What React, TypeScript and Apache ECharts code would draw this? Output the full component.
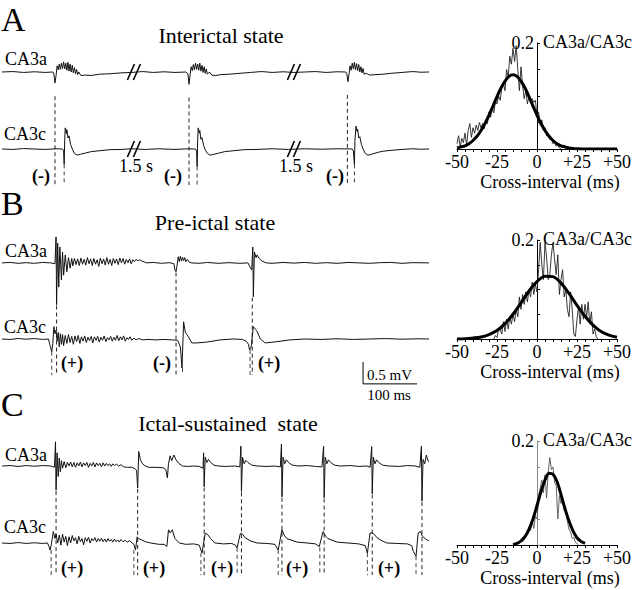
import React, { useEffect, useRef } from "react";
import * as echarts from "echarts";

// ===== Panel A (interictal) traces: [time ms, mV] =====
const traceA_CA3a: number[][] = [
  [0, 0], [20, 0.01], [40, -0.01], [60, 0.005], [80, -0.01], [94, 0],
  [96, -0.05], [98, -0.25], [100, -0.08], [102, 0.14], [104, 0.05], [106, 0.18], [108, 0.06], [110, 0.2],
  [112, 0.08], [114, 0.23], [116, 0.07], [118, 0.2], [120, 0.04], [122, 0.22], [124, 0.02], [126, 0.18],
  [128, 0.0], [130, 0.15], [132, -0.02], [134, 0.1], [136, -0.04], [138, 0.06], [140, -0.06], [142, 0.0],
  [146, -0.08], [155, -0.07], [165, -0.08], [180, -0.05], [200, -0.04], [220, -0.02], [240, -0.01],
  [260, 0.01], [280, -0.01], [300, 0.005], [320, -0.01], [340, 0],
  [344, -0.04], [346, -0.28], [348, -0.06], [350, 0.12], [352, 0.03], [354, 0.17], [356, 0.05], [358, 0.2],
  [360, 0.06], [362, 0.18], [364, 0.04], [366, 0.2], [368, 0.02], [370, 0.15], [372, -0.01], [374, 0.12],
  [376, -0.03], [378, 0.07], [380, -0.05], [384, 0], [388, -0.07], [395, -0.08], [405, -0.06], [420, -0.05],
  [440, -0.03], [460, -0.01], [480, 0.01], [500, -0.01], [520, 0.005], [540, -0.01], [560, 0.0], [580, 0.01],
  [600, -0.01], [620, 0.005], [636, 0],
  [638, -0.04], [640, -0.22], [642, -0.05], [644, 0.14], [646, 0.04], [648, 0.2], [650, 0.07], [652, 0.22],
  [654, 0.05], [656, 0.19], [658, 0.03], [660, 0.17], [662, 0.0], [664, 0.12], [666, -0.02], [668, 0.08],
  [670, -0.05], [674, -0.03], [680, -0.07], [690, -0.06], [705, -0.05], [720, -0.03], [740, -0.01],
  [760, 0.01], [775, -0.005], [790, 0],
];
const traceA_CA3c: number[][] = [
  [0, 0], [20, -0.01], [40, 0.01], [60, 0], [80, -0.01], [100, 0.005], [112, 0],
  [114, -0.04], [115, -0.35], [116, 0.2], [117, 0.48], [119, 0.35], [120, 0.44], [122, 0.25], [124, 0.3],
  [127, 0.1], [130, 0.0], [134, -0.1], [139, -0.14], [145, -0.12], [155, -0.09], [165, -0.06], [180, -0.04],
  [200, -0.015], [220, -0.01], [240, 0.005], [265, -0.01], [290, 0.005], [320, -0.01], [345, 0.005], [358, 0],
  [360, -0.05], [361, -0.4], [362, 0.2], [363, 0.48], [365, 0.36], [366, 0.42], [368, 0.22], [370, 0.26],
  [373, 0.08], [376, -0.02], [380, -0.1], [385, -0.14], [392, -0.12], [402, -0.09], [412, -0.06],
  [428, -0.04], [448, -0.015], [470, -0.01], [500, 0.005], [530, -0.01], [560, 0.005], [590, -0.005],
  [620, 0.005], [648, 0],
  [650, -0.04], [652, -0.35], [653, 0.2], [655, 0.52], [657, 0.4], [658, 0.45], [660, 0.25], [662, 0.28],
  [665, 0.1], [668, 0.0], [672, -0.1], [677, -0.14], [684, -0.12], [694, -0.08], [705, -0.05], [720, -0.03],
  [740, -0.01], [760, 0.005], [775, -0.005], [790, 0],
];
const dashA_CA3a = [98, 346, 639];
const dashA_CA3c = [115, 361, 652];
const breaksA = [245, 541];

// ===== Panel B (pre-ictal) traces =====
const traceB_CA3a: number[][] = [
  [0, 0], [15, 0.01], [30, -0.01], [45, 0.005], [60, -0.01], [75, 0.01], [90, 0], [98, -0.02],
  [100, 0.59], [101, -0.95], [103, 0.45], [105, -0.55], [107, 0.36], [110, -0.39], [112, 0.25], [114, -0.28],
  [117, 0.18], [120, -0.2], [123, 0.12], [126, -0.12], [129, 0.1], [131, -0.07], [134, 0.1], [137, -0.04],
  [140, 0.09], [143, -0.06], [146, 0.11], [149, -0.03], [152, 0.08], [155, -0.05], [158, 0.12], [161, -0.02],
  [164, 0.09], [167, -0.06], [170, 0.1], [173, -0.03], [176, 0.07], [179, -0.08], [182, 0.11], [185, -0.02],
  [188, 0.09], [191, -0.05], [194, 0.12], [197, -0.03], [200, 0.08], [203, -0.06], [206, 0.1], [209, -0.01],
  [212, 0.09], [215, -0.04], [218, 0.11], [221, 0.0], [224, 0.1], [227, -0.03], [230, 0.08], [233, 0.0],
  [236, 0.09], [239, -0.02], [242, 0.07], [245, 0.03], [248, 0.08], [251, 0.05], [255, 0.07], [259, 0.04],
  [263, 0.02], [268, 0.0], [280, 0.01], [295, -0.01], [310, 0.005], [318, -0.02],
  [320, -0.16], [322, -0.2], [324, -0.05], [326, 0.14], [328, 0.03], [330, 0.15], [332, 0.04], [334, 0.13],
  [336, 0.05], [338, 0.12], [340, 0.03], [343, 0.08], [346, 0.02], [350, 0.0], [365, -0.01], [380, 0.01],
  [400, -0.01], [420, 0.005], [440, -0.01], [455, 0.0],
  [459, -0.1], [462, -0.16], [464, 0.36], [465, -0.77], [467, 0.25], [470, 0.12], [472, 0.18], [476, 0.1],
  [481, 0.04], [489, 0], [500, -0.01], [520, 0.01], [540, -0.005], [560, 0.01], [580, -0.01], [600, 0.005],
  [620, -0.01], [640, 0.01], [660, 0], [680, -0.01], [700, 0.005], [720, 0.01], [740, -0.01], [760, 0.005],
  [790, 0],
];
const traceB_CA3c: number[][] = [
  [0, 0], [15, -0.01], [30, 0.01], [45, -0.005], [60, 0.01], [75, -0.01], [86, 0],
  [89, -0.15], [92, -0.29], [94, -0.1], [96, 0.28], [98, 0.12], [100, 0.2], [102, -0.05], [104, 0.15],
  [106, -0.18], [108, 0.12], [110, -0.12], [112, 0.1], [114, -0.15], [117, 0.08], [120, -0.1], [123, 0.1],
  [126, -0.08], [129, 0.06], [132, -0.12], [135, 0.07], [138, -0.06], [141, 0.08], [144, -0.1], [147, 0.05],
  [150, -0.05], [153, 0.07], [156, -0.08], [159, 0.04], [162, -0.04], [165, 0.06], [168, -0.09], [171, 0.05],
  [174, -0.03], [177, 0.06], [180, -0.07], [183, 0.04], [186, -0.03], [189, 0.07], [192, -0.06], [195, 0.03],
  [198, -0.02], [201, 0.06], [204, -0.05], [207, 0.04], [210, -0.03], [213, 0.08], [216, -0.04], [219, 0.05],
  [222, -0.02], [225, 0.07], [228, -0.05], [231, 0.03], [234, -0.01], [237, 0.05], [240, -0.03], [244, 0.02],
  [248, -0.02], [253, 0.01], [260, -0.02], [270, -0.01], [285, -0.02], [300, -0.01], [315, -0.02],
  [325, -0.03], [330, -0.18], [333, -0.66], [336, 0.39], [339, 0.16], [342, 0.1], [345, 0.05], [351, -0.09],
  [360, -0.09], [379, -0.07], [404, -0.02], [428, 0], [445, -0.01], [452, -0.05], [456, -0.12], [458, -0.25],
  [461, -0.18], [465, 0.28], [469, 0.22], [472, 0.17], [478, 0.0], [487, -0.09], [509, -0.06], [533, -0.02],
  [560, 0], [590, -0.01], [620, 0.005], [650, -0.01], [680, 0], [710, 0.01], [740, -0.005], [770, 0.005],
  [790, 0],
];
const dashB_CA3a = [101, 322, 463];
const dashB_CA3c = [92, 334, 459];

// ===== Panel C (ictal-sustained) traces =====
const traceC_CA3a: number[][] = [
  [0, 0], [15, 0.01], [30, -0.01], [45, 0.01], [60, -0.005], [75, 0.01], [90, 0], [97, -0.03],
  [99, 0.55], [100, -0.55], [102, 0.3], [104, -0.24], [106, 0.18], [108, -0.13], [110, 0.12], [112, -0.05],
  [115, 0.1], [118, -0.04], [121, 0.08], [124, 0.0], [127, 0.09], [130, -0.02], [133, 0.08], [136, -0.03],
  [139, 0.07], [142, 0.0], [145, 0.09], [148, -0.02], [151, 0.07], [154, 0.01], [157, 0.08], [160, -0.03],
  [163, 0.06], [166, 0.0], [169, 0.08], [172, -0.02], [175, 0.07], [178, 0.01], [181, 0.06], [184, -0.02],
  [187, 0.07], [190, 0.0], [193, 0.06], [196, 0.01], [199, 0.05], [202, -0.01], [205, 0.05], [208, 0.01],
  [212, 0.04], [216, 0.0], [220, 0.03], [225, -0.02], [232, -0.03], [240, -0.03], [246, -0.06], [249, -0.1],
  [251, -0.5], [253, 0.33], [256, 0.14], [260, 0.05], [265, 0.0], [272, -0.03], [285, -0.03], [298, -0.04],
  [303, -0.08], [306, -0.27], [308, 0.05], [311, 0.23], [314, 0.12], [318, 0.25], [322, 0.14], [327, 0.06],
  [334, 0.0], [345, -0.01], [355, 0.0], [365, -0.01], [372, -0.05],
  [373, 0.3], [374, -0.47], [376, 0.2], [379, 0.08], [382, 0.15], [386, 0.08], [392, 0.02], [400, 0],
  [415, -0.01], [430, 0.0], [440, -0.02],
  [442, 0.45], [443, -0.58], [445, 0.2], [448, 0.05], [451, 0.13], [455, 0.08], [462, 0.02], [472, 0],
  [490, -0.01], [505, 0.0], [515, -0.02],
  [517, 0.5], [518, -0.7], [520, 0.2], [523, 0.05], [526, 0.14], [530, 0.08], [537, 0.02], [548, 0],
  [565, 0.01], [580, -0.01], [592, -0.02],
  [595, 0.45], [596, -0.72], [598, 0.2], [601, 0.05], [604, 0.14], [608, 0.08], [615, 0.02], [626, 0],
  [645, 0.01], [660, -0.01], [675, 0.0], [681, -0.03],
  [684, 0.44], [685, -0.63], [687, 0.2], [690, 0.05], [693, 0.14], [697, 0.08], [704, 0.02], [715, 0],
  [735, -0.01], [750, 0.01], [765, 0], [773, -0.03],
  [776, 0.45], [777, -0.8], [779, 0.15], [782, 0.05], [785, 0.25], [788, 0.12], [790, 0.1],
];
const traceC_CA3c: number[][] = [
  [0, 0], [15, -0.01], [30, 0.01], [45, -0.01], [60, 0.005], [75, -0.01], [84, 0.0], [87, -0.08],
  [89, -0.16], [91, -0.05], [95, 0.26], [98, 0.1], [100, 0.2], [103, 0.0], [106, 0.18], [109, -0.05],
  [112, 0.2], [115, 0.02], [118, 0.15], [121, -0.06], [124, 0.14], [127, 0.0], [130, 0.17], [133, 0.05],
  [136, 0.12], [139, -0.02], [142, 0.15], [145, 0.03], [148, 0.1], [151, -0.04], [154, 0.12], [157, 0.04],
  [160, 0.13], [163, 0.0], [166, 0.1], [169, 0.05], [172, 0.12], [175, 0.02], [178, 0.1], [181, 0.04],
  [184, 0.11], [187, 0.03], [190, 0.09], [193, 0.02], [196, 0.1], [199, 0.04], [202, 0.08], [205, 0.02],
  [208, 0.09], [211, 0.03], [214, 0.07], [217, 0.02], [220, 0.08], [224, 0.03], [228, 0.06], [232, 0.02],
  [236, 0.05], [240, 0.01], [244, -0.03], [247, -0.16],
  [250, 0.14], [253, 0.1], [258, 0.07], [265, 0.03], [275, 0.0], [290, -0.03], [300, -0.03], [305, -0.08],
  [308, 0.3], [311, 0.23], [315, 0.3], [320, 0.1], [328, 0.0], [340, -0.03], [355, -0.02], [365, -0.05],
  [370, -0.23], [376, 0.22], [380, 0.2], [386, 0.1], [394, 0.0], [410, -0.02], [425, -0.01], [432, -0.05],
  [435, -0.11], [441, 0.22], [445, 0.2], [450, 0.12], [459, 0.05], [472, 0.0], [490, -0.01], [505, -0.03],
  [511, -0.16], [518, 0.3], [522, 0.18], [527, 0.1], [546, 0.02], [565, 0.0], [580, -0.02], [587, -0.08],
  [594, 0.26], [599, 0.15], [603, 0.1], [620, 0.02], [640, 0.0], [660, -0.02], [672, -0.06], [676, -0.23],
  [681, 0.23], [687, 0.22], [694, 0.12], [700, 0.07], [712, 0.0], [730, -0.01], [750, -0.02], [758, -0.06],
  [761, -0.19], [766, -0.3], [770, 0.23], [774, 0.26], [778, 0.15], [785, 0.08], [790, 0.05],
];
const dashC_CA3a = [100, 251, 374, 443, 518, 596, 685, 777];
const dashC_CA3c = [91, 244, 368, 435, 511, 588, 676, 766];

// ===== Cross-interval histograms (1 ms bins) =====
const histA_start = -50;
const histA = [
  0.01, 0.025, 0.005, 0.02, 0.012, 0.03, 0.008, 0.035, 0.048, 0.022,
  0.04, 0.03, 0.045, 0.035, 0.05, 0.04, 0.048, 0.038, 0.055, 0.048,
  0.07, 0.06, 0.078, 0.068, 0.09, 0.085, 0.1, 0.092, 0.115, 0.125,
  0.11, 0.15, 0.135, 0.175, 0.16, 0.19, 0.165, 0.195, 0.15, 0.11,
  0.155, 0.12, 0.095, 0.11, 0.085, 0.1, 0.09, 0.095, 0.088, 0.092,
  0.06, 0.07, 0.045, 0.055, 0.035, 0.04, 0.025, 0.03, 0.018, 0.022,
  0.01, 0.014, 0.005, 0.008, 0.002, 0,
];
const histB_start = -27;
const histB = [
  0, 0.007, 0.003, 0.02, 0.02, 0.01, 0.035, 0.015, 0.04, 0.02,
  0.045, 0.03, 0.05, 0.035, 0.06, 0.045, 0.085, 0.06, 0.09, 0.07,
  0.095, 0.075, 0.1, 0.085, 0.115, 0.09, 0.11, 0.095, 0.14, 0.195,
  0.15, 0.12, 0.195, 0.165, 0.12, 0.13, 0.17, 0.195, 0.16, 0.13,
  0.17, 0.09, 0.12, 0.14, 0.085, 0.1, 0.06, 0.045, 0.095, 0.06,
  0.01, 0.005, 0.04, 0.065, 0.03, 0.07, 0.04, 0.07, 0.045, 0.075,
  0.03, 0.055, 0.01, 0.02, 0.005, 0,
];
const histC_start = -14;
const histC = [
  0, 0.002, 0.004, 0.003, 0.008, 0.006, 0.012, 0.018, 0.022, 0.035,
  0.028, 0.045, 0.032, 0.055, 0.05, 0.085, 0.11, 0.125, 0.1, 0.135,
  0.09, 0.14, 0.168, 0.145, 0.15, 0.12, 0.115, 0.05, 0.095, 0.08,
  0.085, 0.065, 0.07, 0.045, 0.03, 0.025, 0.012, 0.015, 0.005, 0.003, 0,
];

// ===== Gaussian fits =====
const gaussA: number[][] = [
  [-50, 0.002], [-47.5, 0.004], [-45, 0.006], [-42.5, 0.01], [-40, 0.016], [-37.5, 0.024], [-35, 0.035],
  [-32.5, 0.048], [-30, 0.064], [-27.5, 0.081], [-25, 0.099], [-22.5, 0.115], [-20, 0.128], [-17.5, 0.137],
  [-15, 0.14], [-12.5, 0.137], [-10, 0.128], [-7.5, 0.115], [-5, 0.099], [-2.5, 0.081], [0, 0.064],
  [2.5, 0.048], [5, 0.035], [7.5, 0.024], [10, 0.016], [12.5, 0.01], [15, 0.006], [17.5, 0.004],
  [20, 0.002], [22.5, 0.001], [25, 0.0005], [30, 0], [40, 0], [50, 0],
];
const gaussB: number[][] = [
  [-50, 0.0002], [-45, 0.0007], [-40, 0.002], [-35, 0.004], [-30, 0.009], [-25, 0.017], [-20, 0.031],
  [-15, 0.05], [-10, 0.073], [-5, 0.097], [0, 0.116], [5, 0.127], [10, 0.126], [15, 0.113], [20, 0.092],
  [25, 0.068], [30, 0.046], [35, 0.028], [40, 0.015], [45, 0.008], [50, 0.0035],
];
const gaussC: number[][] = [
  [-15, 0.001], [-12.5, 0.003], [-10, 0.008], [-7.5, 0.016], [-5, 0.03], [-2.5, 0.05], [0, 0.076],
  [2.5, 0.103], [5, 0.125], [7.5, 0.138], [10, 0.136], [12.5, 0.122], [15, 0.097], [17.5, 0.07],
  [20, 0.046], [22.5, 0.027], [25, 0.014], [27.5, 0.007], [30, 0.003],
];

const histTicks = [-50, -25, 0, 25, 50];
const scaleBarMs = 100;
const scaleBarMv = 0.5;

const FONT = '"Liberation Serif", "Times New Roman", serif';

function minNear(trace: number[][], t: number, w = 3) {
  let m = Infinity;
  for (const [x, v] of trace) if (Math.abs(x - t) <= w) m = Math.min(m, v);
  return m === Infinity ? 0 : m;
}

function txt(text: string, x: number, y: number, size: number, align = "left", weight = "normal") {
  return {
    type: "text",
    x,
    y,
    silent: true,
    style: {
      text,
      fill: "#000",
      font: `${weight} ${size}px ${FONT}`,
      textAlign: align,
      align,
      textVerticalAlign: "middle",
      verticalAlign: "middle",
    },
  };
}

function buildOption() {
  const traceGrids = [
    { top: 34.6, min: -0.9, max: 2.6 },
    { top: 224.6, min: -1.2, max: 2.6 },
    { top: 428.6, min: -0.9, max: 2.6 },
  ];
  const PXMV = 44;
  const HIST_LEFT = 457;
  const HIST_W = 160;
  const histGrids = [
    { top: 43, height: 106, axisColor: "#000", thin: "#222" },
    { top: 240, height: 99, axisColor: "#000", thin: "#222" },
    { top: 441, height: 104, axisColor: "#888", thin: "#555" },
  ];

  const grid: any[] = [];
  const xAxis: any[] = [];
  const yAxis: any[] = [];
  traceGrids.forEach((g) => {
    grid.push({ left: 2, width: 427, top: g.top, height: (g.max - g.min) * PXMV, containLabel: false, outerBoundsMode: "none" });
    xAxis.push({ type: "value", gridIndex: grid.length - 1, min: 0, max: 790, show: false });
    yAxis.push({ type: "value", gridIndex: grid.length - 1, min: g.min, max: g.max, show: false });
  });
  histGrids.forEach((g) => {
    grid.push({ left: HIST_LEFT, width: HIST_W, top: g.top, height: g.height, containLabel: false, outerBoundsMode: "none" });
    const gi = grid.length - 1;
    xAxis.push({
      type: "value",
      gridIndex: gi,
      min: -50,
      max: 50,
      interval: 5,
      axisLine: { show: true, onZero: false, lineStyle: { color: "#000", width: 1 } },
      axisTick: { show: true, length: 3, lineStyle: { color: "#000" } },
      splitLine: { show: false },
      axisLabel: {
        interval: 0,
        margin: 4,
        color: "#000",
        fontSize: 18,
        fontFamily: FONT,
        formatter: (v: number) => (histTicks.includes(v) ? (v > 0 ? "+" + v : String(v)) : ""),
      },
      name: "Cross-interval (ms)",
      nameLocation: "middle",
      nameGap: 24,
      nameTextStyle: { color: "#000", fontSize: 18, fontFamily: FONT, padding: [0, 0, 0, 26] },
    });
    yAxis.push({
      type: "value",
      gridIndex: gi,
      min: 0,
      max: 0.2,
      interval: 0.05,
      position: "left",
      // move the axis from the grid's left edge to x = 0 ms
      offset: -HIST_W / 2,
      axisLine: { show: true, onZero: false, lineStyle: { color: g.axisColor, width: 1 } },
      axisTick: { show: true, inside: true, length: 3, lineStyle: { color: g.axisColor } },
      splitLine: { show: false },
      axisLabel: {
        margin: 3,
        color: "#000",
        fontSize: 18,
        fontFamily: FONT,
        formatter: (v: number) => (Math.abs(v - 0.2) < 1e-9 ? "0.2" : ""),
      },
      name: "CA3a/CA3c",
      nameLocation: "end",
      nameGap: 1,
      nameTextStyle: { color: "#000", fontSize: 18, fontFamily: FONT, align: "left", verticalAlign: "middle", padding: [0, 0, 0, 6] },
    });
  });

  const series: any[] = [];
  const panels = [
    { g: 0, a: traceA_CA3a, c: traceA_CA3c, off: 1.75, da: dashA_CA3a, dc: dashA_CA3c, gap: 0.3, bottom: -0.82 },
    { g: 1, a: traceB_CA3a, c: traceB_CA3c, off: 1.73, da: dashB_CA3a, dc: dashB_CA3c, gap: 0.02, bottom: -0.82 },
    { g: 2, a: traceC_CA3a, c: traceC_CA3c, off: 1.75, da: dashC_CA3a, dc: dashC_CA3c, gap: 0.02, bottom: -0.73 },
  ];
  panels.forEach((p) => {
    const base = { type: "line", xAxisIndex: p.g, yAxisIndex: p.g, symbol: "none", silent: true, z: 3 };
    series.push({ ...base, data: p.a.map(([t, v]) => [t, v + p.off]), lineStyle: { color: "#111", width: 1 } });
    series.push({ ...base, data: p.c.map(([t, v]) => [t, v]), lineStyle: { color: "#111", width: 1 } });
    p.da.forEach((t) => {
      const top = p.off + minNear(p.a, t) - p.gap;
      series.push({ ...base, z: 2, data: [[t, top], [t, p.bottom]], lineStyle: { color: "#222", width: 1, type: [4, 3] } });
    });
    p.dc.forEach((t) => {
      const top = Math.min(minNear(p.c, t), -0.1);
      series.push({ ...base, z: 2, data: [[t, top], [t, p.bottom]], lineStyle: { color: "#444", width: 1, type: [4, 3] } });
    });
  });

  // break marks in panel A
  series.push({
    type: "custom",
    xAxisIndex: 0,
    yAxisIndex: 0,
    silent: true,
    z: 5,
    data: breaksA.flatMap((t) => [[t, 1.75], [t, 0]]),
    renderItem: (_params: any, api: any) => {
      const pt = api.coord([api.value(0), api.value(1)]);
      const mk = (dx: number) => ({
        type: "line",
        shape: { x1: pt[0] + dx - 4, y1: pt[1] + 8, x2: pt[0] + dx + 3, y2: pt[1] - 8 },
        style: { stroke: "#000", lineWidth: 1.6 },
      });
      return { type: "group", children: [mk(-3), mk(3)] };
    },
  });

  // scale bar in panel B
  const sbT = 668;
  const sbV = -1.02;
  series.push({
    type: "line",
    xAxisIndex: 1,
    yAxisIndex: 1,
    symbol: "none",
    silent: true,
    data: [[sbT, sbV + scaleBarMv], [sbT, sbV], [sbT + scaleBarMs, sbV]],
    lineStyle: { color: "#000", width: 1 },
  });

  // histograms + fits
  const hists = [
    { h: histA, s: histA_start, gf: gaussA },
    { h: histB, s: histB_start, gf: gaussB },
    { h: histC, s: histC_start, gf: gaussC },
  ];
  hists.forEach((hh, i) => {
    const gi = 3 + i;
    series.push({
      type: "line",
      xAxisIndex: gi,
      yAxisIndex: gi,
      symbol: "none",
      silent: true,
      z: 3,
      data: hh.h.map((v, k) => [hh.s + k, v]),
      lineStyle: { color: histGrids[i].thin, width: 0.9 },
    });
    series.push({
      type: "line",
      xAxisIndex: gi,
      yAxisIndex: gi,
      symbol: "none",
      silent: true,
      smooth: 0.3,
      z: 4,
      data: hh.gf,
      lineStyle: { color: "#000", width: 3 },
    });
  });

  const graphic: any[] = [
    txt("A", 1, 19, 34),
    txt("B", 1, 203, 34),
    txt("C", 1, 404, 34),
    txt("Interictal state", 221, 35, 22, "center"),
    txt("Pre-ictal state", 215, 222, 22, "center"),
    txt("Ictal-sustained  state", 228, 423, 22, "center"),
    txt("CA3a", 5, 59, 18),
    txt("CA3c", 4, 134, 18),
    txt("CA3a", 5, 251, 18),
    txt("CA3c", 4, 327, 18),
    txt("CA3a", 5, 455, 18),
    txt("CA3c", 4, 527, 18),
    txt("1.5 s", 136, 166, 18, "center"),
    txt("1.5 s", 296, 166, 18, "center"),
    txt("(-)", 41, 176, 18, "center", "bold"),
    txt("(-)", 173, 176, 18, "center", "bold"),
    txt("(-)", 335, 176, 18, "center", "bold"),
    txt("(+)", 72, 363, 18, "center", "bold"),
    txt("(-)", 162, 363, 18, "center", "bold"),
    txt("(+)", 269, 363, 18, "center", "bold"),
    txt("(+)", 72, 568, 18, "center", "bold"),
    txt("(+)", 154, 568, 18, "center", "bold"),
    txt("(+)", 222, 568, 18, "center", "bold"),
    txt("(+)", 297, 568, 18, "center", "bold"),
    txt("(+)", 389, 568, 18, "center", "bold"),
    txt("0.5 mV", 367, 375, 15),
    txt("100 ms", 389, 395, 15, "center"),
  ];

  return {
    animation: false,
    backgroundColor: "#fff",
    textStyle: { fontFamily: FONT },
    grid,
    xAxis,
    yAxis,
    series,
    graphic,
  };
}

export default function App() {
  const ref = useRef<HTMLDivElement>(null);
  useEffect(() => {
    const chart = echarts.init(ref.current!, undefined, { renderer: "svg", width: 640, height: 590 });
    chart.setOption(buildOption() as any);
    return () => chart.dispose();
  }, []);
  return (
    <div
      ref={ref}
      style={{ position: "absolute", left: 0, top: 0, width: 640, height: 590, background: "#fff" }}
    />
  );
}
